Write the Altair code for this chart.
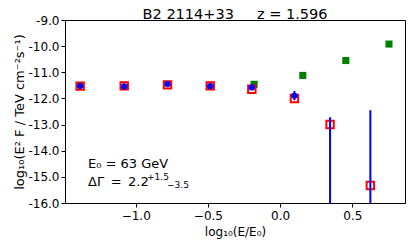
import altair as alt
import pandas as pd

# Red open squares (model / flux points)
red_x = [-1.385, -1.08, -0.78, -0.484, -0.196, 0.099, 0.346, 0.625]
red_y = [-11.53, -11.52, -11.48, -11.52, -11.65, -12.0, -13.0, -15.33]

# Blue dots with error bars
blue_x = [-1.385, -1.08, -0.78, -0.484, -0.196, 0.099]
blue_y = [-11.52, -11.54, -11.45, -11.53, -11.58, -11.9]
blue_lo = [-11.52, -11.54, -11.45, -11.53, -11.58, -12.07]
blue_hi = [-11.52, -11.54, -11.45, -11.53, -11.58, -11.71]

# Blue long error bars (upper limits going off the bottom)
ul_x = [0.346, 0.625]
ul_top = [-12.72, -12.45]
ul_bot = [-16.0, -16.0]

# Green filled squares
green_x = [-0.18, 0.157, 0.455, 0.754]
green_y = [-11.46, -11.12, -10.55, -9.92]

x_ticks = [-1.0, -0.5, 0.0, 0.5]
y_ticks = [-9, -10, -11, -12, -13, -14, -15, -16]

title_text = "B2 2114+33\u00a0\u00a0\u00a0\u00a0\u00a0z = 1.596"

xs = alt.Scale(domain=[-1.49, 0.865], nice=False, zero=False)
ys = alt.Scale(domain=[-16, -9], nice=False, zero=False)

xaxis = alt.Axis(values=x_ticks, format=".1f", title="log₁₀(E/E₀)", grid=False,
                 tickSize=4, labelPadding=3, titlePadding=5, labelOverlap=False)
yaxis = alt.Axis(values=y_ticks, title="log₁₀(E² F / TeV cm⁻²s⁻¹)", grid=False,
                 tickSize=4, labelPadding=2, titlePadding=1, labelOverlap=False,
                 titleFontSize=13,
                 labelExpr="datum.value < 0 ? '-' + format(abs(datum.value), '.1f') : format(datum.value, '.1f')")


def X(field):
    return alt.X(field, type="quantitative", scale=xs, axis=xaxis)


def Y(field):
    return alt.Y(field, type="quantitative", scale=ys, axis=yaxis)


red_df = pd.DataFrame({"x": red_x, "y": red_y})
blue_df = pd.DataFrame({"x": blue_x, "y": blue_y, "lo": blue_lo, "hi": blue_hi})
ul_df = pd.DataFrame({"x": ul_x, "top": ul_top, "bot": ul_bot})
green_df = pd.DataFrame({"x": green_x, "y": green_y})

green = alt.Chart(green_df).mark_square(color="green", size=50, opacity=1).encode(
    x=X("x"), y=Y("y"))
red = alt.Chart(red_df).mark_point(shape="square", filled=False, color="red",
                                   strokeWidth=2, size=55, opacity=1).encode(
    x=X("x"), y=Y("y"))
ul = alt.Chart(ul_df).mark_rule(color="blue", strokeWidth=2, clip=True).encode(
    x=X("x"), y=Y("top"), y2="bot:Q")
err = alt.Chart(blue_df).mark_rule(color="blue", strokeWidth=2).encode(
    x=X("x"), y=Y("lo"), y2="hi:Q")
blue = alt.Chart(blue_df).mark_circle(color="blue", size=40, opacity=1).encode(
    x=X("x"), y=Y("y"))

one = pd.DataFrame({"a": [0]})


def txt(s, x, y, size, baseline="middle", align="left"):
    return alt.Chart(one).mark_text(text=s, align=align, baseline=baseline,
                                    fontSize=size, font="DejaVu Sans", color="black").encode(
        x=alt.value(x), y=alt.value(y))


t0 = txt(title_text, 170, -12, 14.5, baseline="top", align="center")
t1 = txt("E₀ = 63 GeV", 23, 144, 13)
t2 = txt("ΔΓ\u2002=\u20022.2", 23, 162, 13)
t3 = txt("+1.5", 82, 156.5, 9)
t4 = txt("−3.5", 102, 165, 9)

chart = alt.layer(green, red, ul, err, blue, t0, t1, t2, t3, t4).properties(
    width=340, height=183,
    autosize=alt.AutoSizeParams(type="none"),
    padding={"left": 57, "top": 12, "right": 2, "bottom": 36},
).configure_view(stroke="black", strokeWidth=1).configure_axis(
    domainColor="black", tickColor="black", labelColor="black", titleColor="black",
    labelFont="DejaVu Sans", titleFont="DejaVu Sans", labelFontSize=12, titleFontSize=12,
    titleFontWeight="normal", domainWidth=1,
)

chart.save("out.html", embed_options={"renderer": "svg", "actions": False})
